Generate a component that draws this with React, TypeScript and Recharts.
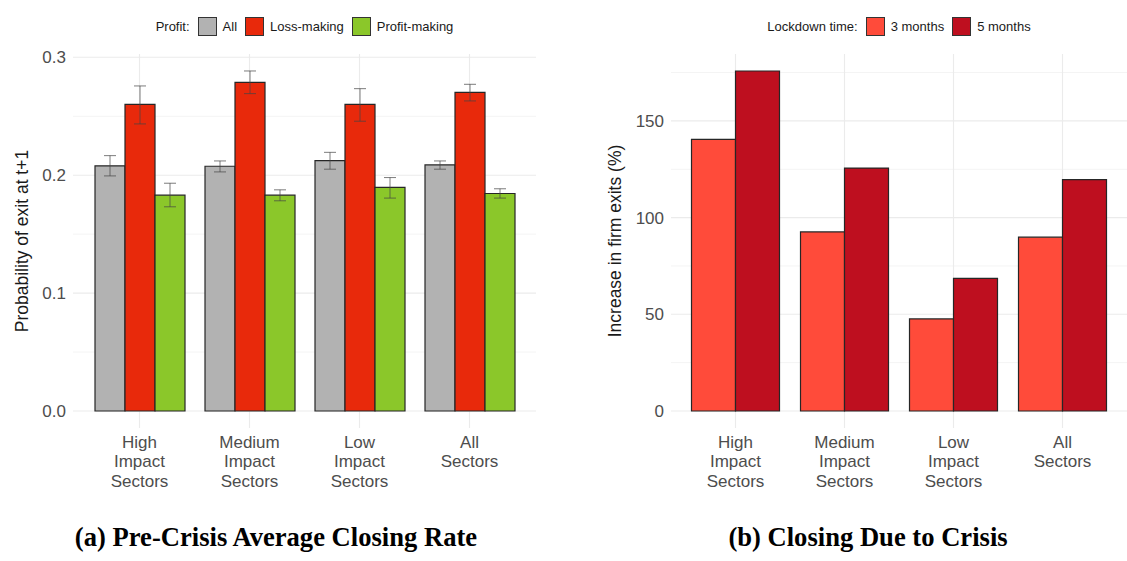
import { BarChart, Bar, XAxis, YAxis, CartesianGrid, ErrorBar } from 'recharts'

const sectors = ['High Impact Sectors', 'Medium Impact Sectors', 'Low Impact Sectors', 'All Sectors']

// panel (a): pre-crisis exit probability with confidence bounds
const allRate = [0.208, 0.2076, 0.2124, 0.2087]
const allLo = [0.1994, 0.2028, 0.2051, 0.2051]
const allHi = [0.2166, 0.2121, 0.2194, 0.2121]
const lossRate = [0.26, 0.2788, 0.26, 0.2703]
const lossLo = [0.2435, 0.2692, 0.2458, 0.263]
const lossHi = [0.2757, 0.2884, 0.2734, 0.2771]
const profitRate = [0.1831, 0.1831, 0.1896, 0.1845]
const profitLo = [0.1732, 0.1783, 0.1806, 0.1806]
const profitHi = [0.1932, 0.1876, 0.198, 0.1885]

// panel (b): increase in firm exits (%)
const months3 = [140.4, 92.6, 47.6, 89.9]
const months5 = [175.8, 125.6, 68.6, 119.6]

const rateTicks = [0, 0.1, 0.2, 0.3]
const rateMinor = [0.05, 0.15, 0.25]
const rateDomain = [-0.0144, 0.3028]
const exitTicks = [0, 50, 100, 150]
const exitMinor = [25, 75, 125, 175]
const exitDomain = [-8.8, 184.6]

const rateData = sectors.map((s, i) => ({
  sector: s,
  all: allRate[i],
  allErr: [allRate[i] - allLo[i], allHi[i] - allRate[i]],
  loss: lossRate[i],
  lossErr: [lossRate[i] - lossLo[i], lossHi[i] - lossRate[i]],
  profit: profitRate[i],
  profitErr: [profitRate[i] - profitLo[i], profitHi[i] - profitRate[i]],
}))

const exitData = sectors.map((s, i) => ({ sector: s, m3: months3[i], m5: months5[i] }))

const SANS = '"Liberation Sans", Arial, sans-serif'
const SERIF = '"Liberation Serif", "Times New Roman", serif'
const GRID = '#ebebeb'
const MINOR = '#f4f4f4'
const EDGE = '#262626'

// minor grid lines placed through the y scale (falls back to the domain if no scale is passed)
const minorLines = (values: number[], domain: number[]) => (props: any) => {
  const { yAxis, offset } = props
  return values.map((v) => {
    if (yAxis && typeof yAxis.scale === 'function') return yAxis.scale(v)
    return offset.top + (offset.height * (domain[1] - v)) / (domain[1] - domain[0])
  })
}

function SectorTick({ x, y, payload }: any) {
  const lines = String(payload.value).split(' ')
  return (
    <text x={x} y={y} textAnchor="middle" fill="#4d4d4d" fontSize={17} fontFamily={SANS}>
      {lines.map((l, i) => (
        <tspan key={i} x={x} dy={i === 0 ? 19.5 : 19.7}>{l}</tspan>
      ))}
    </text>
  )
}

function Key({ color, label }: { color: string; label: string }) {
  return (
    <span style={{ display: 'flex', alignItems: 'center', marginLeft: 8 }}>
      <span style={{ width: 17, height: 17, background: color, border: '1px solid #333', display: 'inline-block' }} />
      <span style={{ marginLeft: 6 }}>{label}</span>
    </span>
  )
}

function Legend({ left, width, title, items }: { left: number; width: number; title: string; items: [string, string][] }) {
  return (
    <div style={{ position: 'absolute', left, top: 17, width, height: 19, display: 'flex', justifyContent: 'center', alignItems: 'center', fontFamily: SANS, fontSize: 13, color: '#1a1a1a' }}>
      <span>{title}</span>
      {items.map(([c, l]) => <Key key={l} color={c} label={l} />)}
    </div>
  )
}

function YTitle({ x, text }: { x: number; text: string }) {
  return (
    <div style={{ position: 'absolute', left: x, top: 241, transform: 'translate(-50%, -50%) rotate(-90deg)', whiteSpace: 'nowrap', fontFamily: SANS, fontSize: 17.5, color: '#1a1a1a' }}>
      {text}
    </div>
  )
}

function Caption({ center, text }: { center: number; text: string }) {
  return (
    <div style={{ position: 'absolute', left: center, top: 522, transform: 'translateX(-50%)', whiteSpace: 'nowrap', fontFamily: SERIF, fontWeight: 'bold', fontSize: 26.6, color: '#000' }}>
      {text}
    </div>
  )
}

const tickStyle = { fill: '#4d4d4d', fontSize: 17, fontFamily: SANS }

export default function App() {
  return (
    <div style={{ position: 'absolute', left: 0, top: 0, width: 1127, height: 561, background: '#fff', overflow: 'hidden' }}>
      <div style={{ position: 'absolute', left: 0, top: 0 }}>
        <BarChart width={560} height={561} data={rateData} margin={{ top: 54, right: 24, bottom: 73, left: 0 }} barGap={0} barCategoryGap={10.5}>
          <CartesianGrid stroke={MINOR} strokeWidth={1} vertical={false} horizontalCoordinatesGenerator={minorLines(rateMinor, rateDomain)} />
          <CartesianGrid stroke={GRID} strokeWidth={1.1} syncWithTicks />
          <XAxis dataKey="sector" axisLine={false} tickLine={false} tickSize={0} tickMargin={0} padding={{ left: 11.5, right: 11.5 }} height={60} interval={0} tick={<SectorTick />} />
          <YAxis type="number" domain={rateDomain} ticks={rateTicks} axisLine={false} tickLine={false} tickSize={0} tickMargin={7} width={73} tick={tickStyle} tickFormatter={(v: number) => v.toFixed(1)} />
          <Bar dataKey="all" fill="#b2b2b2" stroke={EDGE} strokeWidth={1.2} isAnimationActive={false}>
            <ErrorBar dataKey="allErr" width={6} stroke="#444" strokeOpacity={0.7} strokeWidth={1} isAnimationActive={false} />
          </Bar>
          <Bar dataKey="loss" fill="#e8290b" stroke={EDGE} strokeWidth={1.2} isAnimationActive={false}>
            <ErrorBar dataKey="lossErr" width={6} stroke="#444" strokeOpacity={0.7} strokeWidth={1} isAnimationActive={false} />
          </Bar>
          <Bar dataKey="profit" fill="#8bc72a" stroke={EDGE} strokeWidth={1.2} isAnimationActive={false}>
            <ErrorBar dataKey="profitErr" width={6} stroke="#444" strokeOpacity={0.7} strokeWidth={1} isAnimationActive={false} />
          </Bar>
        </BarChart>
      </div>
      <div style={{ position: 'absolute', left: 560, top: 0 }}>
        <BarChart width={567} height={561} data={exitData} margin={{ top: 54, right: 0, bottom: 73, left: 0 }} barGap={0} barCategoryGap={10.5}>
          <CartesianGrid stroke={MINOR} strokeWidth={1} vertical={false} horizontalCoordinatesGenerator={minorLines(exitMinor, exitDomain)} />
          <CartesianGrid stroke={GRID} strokeWidth={1.1} syncWithTicks />
          <XAxis dataKey="sector" axisLine={false} tickLine={false} tickSize={0} tickMargin={0} padding={{ left: 10, right: 10 }} height={60} interval={0} tick={<SectorTick />} />
          <YAxis type="number" domain={exitDomain} ticks={exitTicks} axisLine={false} tickLine={false} tickSize={0} tickMargin={7} width={111} tick={tickStyle} />
          <Bar dataKey="m3" fill="#ff4b3a" stroke={EDGE} strokeWidth={1.2} isAnimationActive={false} />
          <Bar dataKey="m5" fill="#be0f1f" stroke={EDGE} strokeWidth={1.2} isAnimationActive={false} />
        </BarChart>
      </div>
      <Legend left={73} width={463} title="Profit:" items={[['#b2b2b2', 'All'], ['#e8290b', 'Loss-making'], ['#8bc72a', 'Profit-making']]} />
      <Legend left={671} width={456} title="Lockdown time:" items={[['#ff4b3a', '3 months'], ['#be0f1f', '5 months']]} />
      <YTitle x={22} text="Probability of exit at t+1" />
      <YTitle x={615} text="Increase in firm exits (%)" />
      <Caption center={276} text="(a) Pre-Crisis Average Closing Rate" />
      <Caption center={868} text="(b) Closing Due to Crisis" />
    </div>
  )
}
